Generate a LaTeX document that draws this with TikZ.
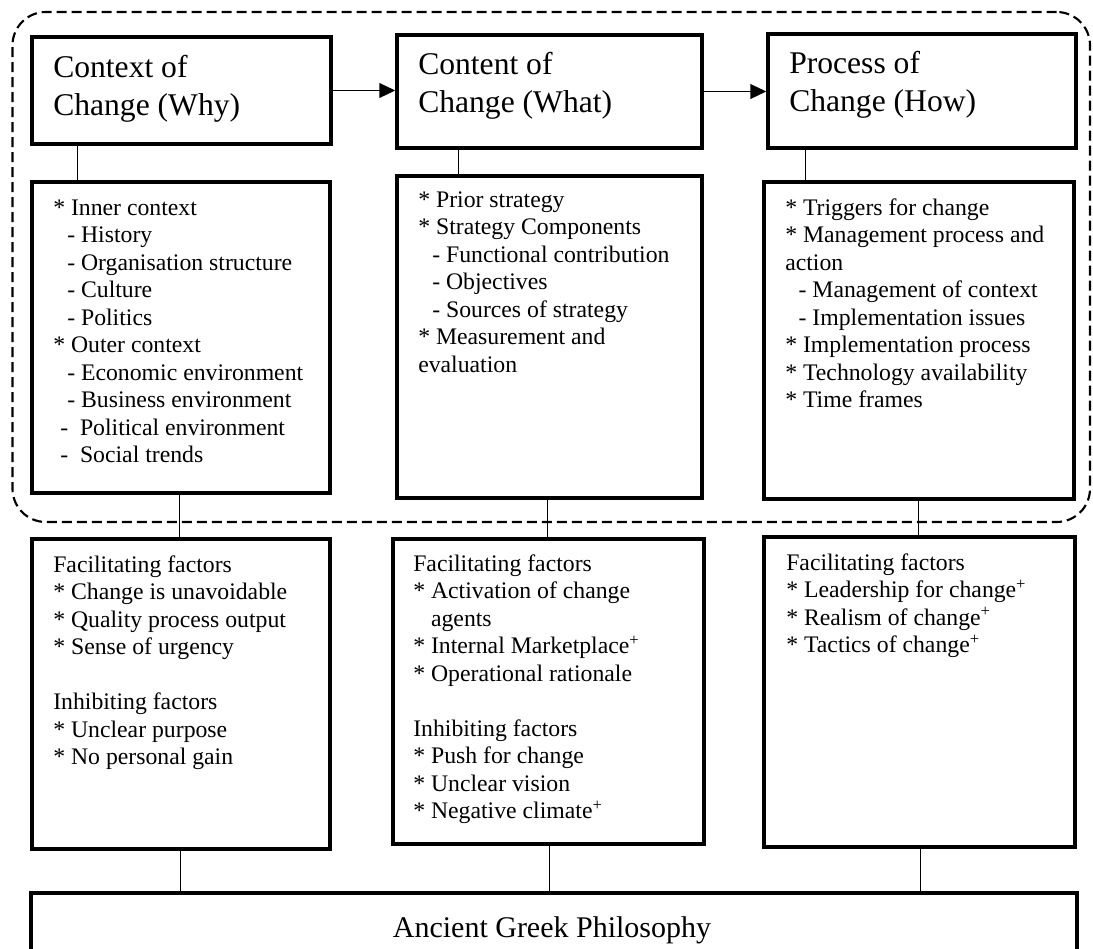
\documentclass[tikz,border=0pt]{standalone}
\usepackage{fontspec}
\setmainfont{Liberation Serif}
\usetikzlibrary{arrows.meta,fit,calc}
\newcommand{\mystrut}{\rule{0pt}{15pt}}
\newcommand{\titlestrut}{\rule{0pt}{20pt}}
\begin{document}
\begin{tikzpicture}[x=0.75pt,y=-0.75pt,
  box/.style={draw, line width=2.5pt, inner sep=0pt},
  link/.style={line width=1.2pt},
  arr/.style={line width=1.4pt, -{Triangle[length=12pt,width=11pt]}},
  body/.style={anchor=north west, inner sep=0pt, align=left, font=\fontsize{17.8pt}{20.6pt}\selectfont},
  title/.style={anchor=north west, inner sep=0pt, align=left, font=\fontsize{23.7pt}{29pt}\selectfont},
  group/.style={draw, dash pattern=on 7.5pt off 3.75pt, line width=1.6pt, rounded corners=25pt, inner sep=0pt}]
\clip (0,0) rectangle (1093,949);

% boxes
\node[box, fit={(32,37) (331,144)}] (A) {};
\node[box, fit={(397,35) (702,148)}] (B) {};
\node[box, fit={(768,34) (1076,148)}] (C) {};
\node[box, fit={(32,182) (330,493)}] (Ad) {};
\node[box, fit={(397,176) (702,498)}] (Bd) {};
\node[box, fit={(764,182) (1074,499)}] (Cd) {};
\node[box, fit={(32,539) (330,849)}] (D1) {};
\node[box, fit={(393,539) (704,844)}] (D2) {};
\node[box, fit={(764,537) (1075,847)}] (D3) {};
\node[box, fit={(31,893) (1077,965)}] (E) {};
\node[group, fit={(12.5,12) (1090,522)}] (G) {};

% titles
\node[title] (At) at (53,50.3) {\titlestrut Context of\\Change (Why)};
\node[title] (Bt) at (418,47.3) {\titlestrut Content of\\Change (What)};
\node[title] (Ct) at (789,46.3) {\titlestrut Process of\\Change (How)};

% detail texts
\node[body] (Adt) at (53,195) {\mystrut * Inner context\\
\hspace*{10.5pt}- History\\
\hspace*{10.5pt}- Organisation structure\\
\hspace*{10.5pt}- Culture\\
\hspace*{10.5pt}- Politics\\
{}* Outer context\\
\hspace*{10.5pt}- Economic environment\\
\hspace*{10.5pt}- Business environment\\
\hspace*{5.25pt}-\ \ Political environment\\
\hspace*{5.25pt}-\ \ Social trends};

\node[body] (Bdt) at (418,187) {\mystrut * Prior strategy\\
{}* Strategy Components\\
\hspace*{10.5pt}- Functional contribution\\
\hspace*{10.5pt}- Objectives\\
\hspace*{10.5pt}- Sources of strategy\\
{}* Measurement and\\
evaluation};

\node[body] (Cdt) at (785,195) {\mystrut * Triggers for change\\
{}* Management process and\\
action\\
\hspace*{10pt}- Management of context\\
\hspace*{10pt}- Implementation issues\\
{}* Implementation process\\
{}* Technology availability\\
{}* Time frames};

\node[body] (D1t) at (53,552) {\mystrut Facilitating factors\\
{}* Change is unavoidable\\
{}* Quality process output\\
{}* Sense of urgency\\
\mbox{}\\
Inhibiting factors\\
{}* Unclear purpose\\
{}* No personal gain};

\node[body] (D2t) at (413,551) {\mystrut Facilitating factors\\
{}* Activation of change\\
\hspace*{0.75em}agents\\
{}* Internal Marketplace\textsuperscript{+}\\
{}* Operational rationale\\
\mbox{}\\
Inhibiting factors\\
{}* Push for change\\
{}* Unclear vision\\
{}* Negative climate\textsuperscript{+}};

\node[body] (D3t) at (786,550) {\mystrut Facilitating factors\\
{}* Leadership for change\textsuperscript{+}\\
{}* Realism of change\textsuperscript{+}\\
{}* Tactics of change\textsuperscript{+}};

\node[anchor=base, inner sep=0pt, font=\fontsize{22.5pt}{27pt}\selectfont] (Et) at (552,937) {Ancient Greek Philosophy};

% arrows
\draw[arr] (A.east) -- (A.east -| B.west);
\draw[arr] (B.east) -- (B.east -| C.west);

% connectors
\draw[link] ($(A.south west)+(47,0)$) -- ($(Ad.north west)+(47,0)$);
\draw[link] ($(B.south west)+(63,0)$) -- ($(Bd.north west)+(63,0)$);
\draw[link] ($(C.south west)+(39,0)$) -- ($(Cd.north west)+(43,0)$);
\draw[link] ($(Ad.south west)+(149,0)$) -- ($(D1.north west)+(149,0)$);
\draw[link] ($(Bd.south west)+(152,0)$) -- ($(D2.north west)+(156,0)$);
\draw[link] ($(Cd.south west)+(156,0)$) -- ($(D3.north west)+(156,0)$);
\draw[link] ($(D1.south west)+(150,0)$) -- ($(E.north west)+(151,0)$);
\draw[link] ($(D2.south west)+(158,0)$) -- ($(E.north west)+(520,0)$);
\draw[link] ($(D3.south west)+(158,0)$) -- ($(E.north west)+(891,0)$);
\end{tikzpicture}
\end{document}
